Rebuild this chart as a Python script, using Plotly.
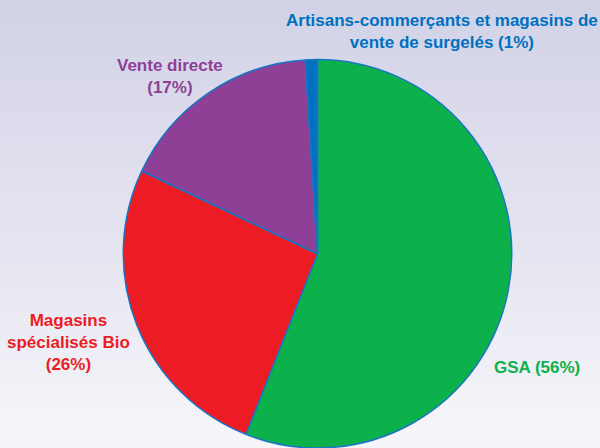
import plotly.graph_objects as go

labels = ["GSA", "Magasins spécialisés Bio", "Vente directe",
          "Artisans-commerçants et magasins de vente de surgelés"]
values = [56, 26, 17, 1]
colors = ["#0db14b", "#ed1c24", "#8e3f96", "#0070c0"]
label_texts = [
    "GSA (56%)",
    "Magasins<br>spécialisés Bio<br>(26%)",
    "Vente directe<br>(17%)",
    "Artisans-commerçants et magasins de<br>vente de surgelés (1%)",
]
label_pos = [(537, 367), (68, 342), (170, 76), (442, 32)]

W, H = 600, 448
fig = go.Figure()

# background gradient
fig.add_trace(go.Scatter(
    x=[0, 1, 1, 0, 0], y=[0, 0, 1, 1, 0], mode="lines", fill="toself",
    line=dict(width=0),
    fillgradient=dict(type="vertical",
                      colorscale=[[0, "#f6f6fa"], [0.5, "#e3e3f0"], [1, "#d2d2e7"]]),
    hoverinfo="skip", showlegend=False,
))

cx, cy, r = 317.5, 254, 194.5
fig.add_trace(go.Pie(
    labels=labels, values=values, sort=False, direction="clockwise", rotation=0,
    marker=dict(colors=colors, line=dict(color="#1a75c4", width=1.5)),
    textinfo="none", hoverinfo="label+percent", showlegend=False,
    domain=dict(x=[(cx - r) / W, (cx + r) / W],
                y=[max(0, (H - cy - r) / H), min(1, (H - cy + r) / H)]),
))

for txt, (px, py), col in zip(label_texts, label_pos, colors):
    fig.add_annotation(
        x=px / W, y=1 - py / H, xref="paper", yref="paper", text="<b>" + txt + "</b>",
        showarrow=False, align="center", xanchor="center", yanchor="middle",
        font=dict(family="Liberation Sans, Arial", size=17, color=col),
    )

fig.update_layout(
    width=W, height=H, margin=dict(l=0, r=0, t=0, b=0),
    paper_bgcolor="#e6e6f0", plot_bgcolor="rgba(0,0,0,0)",
    xaxis=dict(range=[0, 1], visible=False, fixedrange=True, domain=[0, 1]),
    yaxis=dict(range=[0, 1], visible=False, fixedrange=True, domain=[0, 1]),
)
fig.write_html("out.html")
